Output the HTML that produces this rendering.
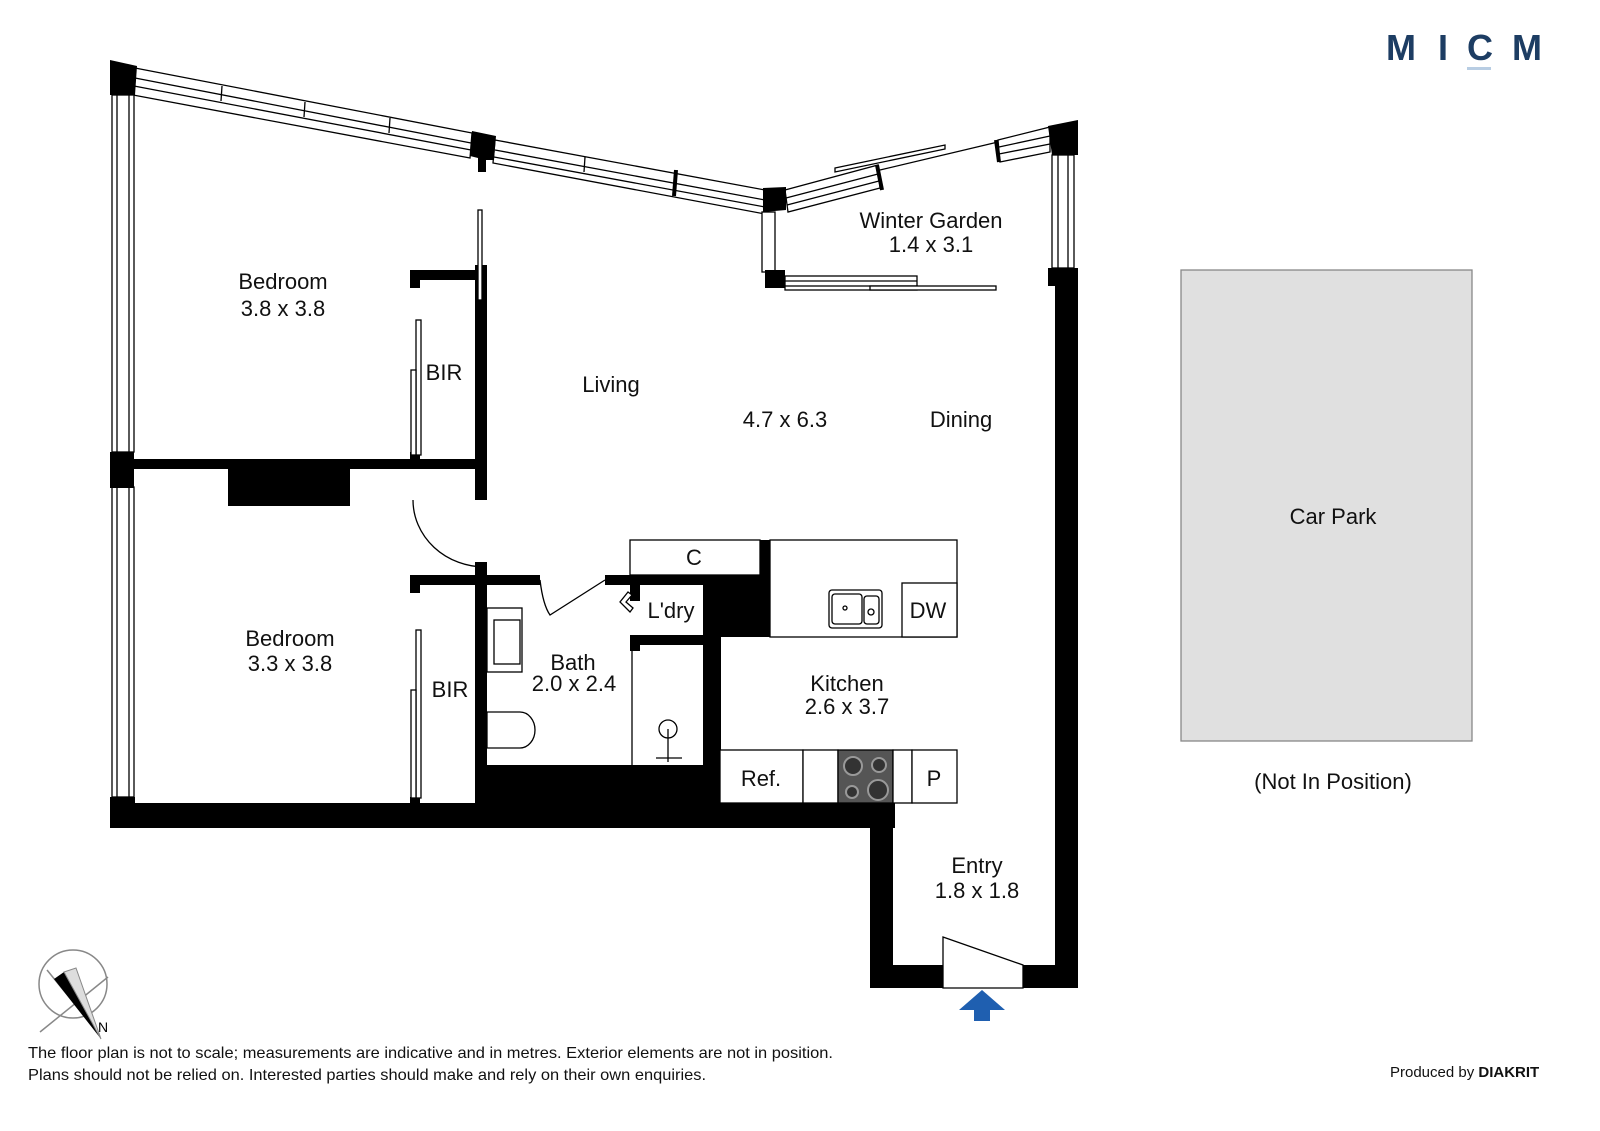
<!DOCTYPE html>
<html><head><meta charset="utf-8"><style>
html,body{margin:0;padding:0;background:#fff;}
svg{display:block;font-family:"Liberation Sans",sans-serif;}
</style></head><body>
<svg width="1600" height="1131" viewBox="0 0 1600 1131" xmlns="http://www.w3.org/2000/svg">
<rect width="1600" height="1131" fill="#fff"/>
<!-- logo -->
<g fill="#1d3d63" font-size="36" font-weight="bold">
<text x="1386" y="60">M</text><text x="1438" y="60">I</text><text x="1467" y="60">C</text><text x="1512" y="60">M</text>
</g>
<rect x="1467" y="67" width="24" height="3" fill="#b8cde3"/>
<!-- top slanted windows -->
<g fill="#fff" stroke="#000" stroke-width="1.3">
<polygon points="135,68 472,133 470,158 133,95"/>
<line x1="135" y1="78" x2="471" y2="143"/><line x1="134" y1="86" x2="471" y2="150"/>
<polygon points="495,140 765,190 765,214 493,163"/>
<line x1="495" y1="150" x2="765" y2="200"/><line x1="494" y1="157" x2="765" y2="207"/>
<line x1="222" y1="86" x2="221" y2="101"/><line x1="305" y1="102" x2="304" y2="117"/><line x1="390" y1="118" x2="389" y2="133"/>
<line x1="585" y1="157" x2="584" y2="172"/>
<polygon points="785,190 878,165 880,188 788,212"/>
<line x1="786" y1="198" x2="878" y2="174"/><line x1="787" y1="205" x2="879" y2="181"/>
<polygon points="835,168 945,145 945,149 835,172"/>
<line x1="880" y1="170" x2="998" y2="142"/>
<polygon points="998,140 1050,127 1050,152 1000,162"/>
<line x1="999" y1="147" x2="1050" y2="136"/><line x1="999" y1="154" x2="1050" y2="144"/>
<rect x="112" y="95" width="22" height="357"/><rect x="117" y="95" width="12" height="357"/>
<rect x="112" y="487" width="22" height="310"/><rect x="117" y="487" width="12" height="310"/>
<rect x="762" y="212" width="13" height="60"/>
<rect x="1052" y="155" width="22" height="113"/><rect x="1058" y="155" width="10" height="113"/>
<rect x="785" y="276" width="132" height="11"/><line x1="785" y1="281" x2="917" y2="281"/>
<rect x="785" y="286" width="132" height="4"/><rect x="870" y="286" width="126" height="4"/>
</g>
<!-- black walls -->
<g fill="#000">
<polygon points="110,60 137,66 135,95 110,95"/>
<rect x="110" y="452" width="24" height="36"/>
<polygon points="472,131 496,136 494,160 486,160 486,172 478,172 478,158 470,156"/>
<line x1="676" y1="170" x2="674" y2="196" stroke="#000" stroke-width="4"/>
<polygon points="763,188 786,187 786,210 763,212"/>
<line x1="877" y1="165" x2="882" y2="190" stroke="#000" stroke-width="4"/>
<line x1="996" y1="140" x2="999" y2="162" stroke="#000" stroke-width="4"/>
<polygon points="1048,126 1078,120 1078,155 1052,155"/>
<rect x="765" y="270" width="20" height="18"/>
<rect x="1048" y="268" width="30" height="18"/>
<rect x="1055" y="268" width="23" height="720"/>
<rect x="110" y="803" width="785" height="25"/>
<rect x="110" y="797" width="25" height="20"/>
<rect x="870" y="805" width="23" height="183"/>
<rect x="870" y="965" width="73" height="23"/>
<rect x="1023" y="965" width="55" height="23"/>
<rect x="110" y="459" width="377" height="10"/>
<rect x="228" y="459" width="122" height="47"/>
<rect x="475" y="265" width="12" height="235"/>
<rect x="410" y="270" width="77" height="10"/><rect x="410" y="270" width="10" height="18"/>
<rect x="410" y="452" width="10" height="16"/>
<rect x="410" y="575" width="130" height="10"/><rect x="410" y="575" width="10" height="18"/>
<rect x="605" y="575" width="165" height="10"/>
<rect x="475" y="562" width="12" height="243"/>
<rect x="410" y="797" width="10" height="10"/>
<rect x="475" y="765" width="245" height="42"/>
<rect x="703" y="585" width="67" height="52"/>
<rect x="760" y="540" width="10" height="97"/>
<rect x="703" y="637" width="18" height="170"/>
<rect x="630" y="635" width="73" height="10"/>
<rect x="630" y="585" width="10" height="16"/><rect x="630" y="635" width="10" height="16"/>
</g>
<g fill="#fff" stroke="#000" stroke-width="1.3">
<rect x="478" y="210" width="4" height="90"/>
<rect x="416" y="320" width="5" height="135"/><rect x="411" y="370" width="5" height="85"/>
<rect x="416" y="630" width="5" height="168"/><rect x="411" y="690" width="5" height="108"/>
<path d="M413,500 A72,67 0 0 0 485,567" fill="none"/>
<path d="M540,580 Q543,605 550,615 L605,580" fill="none"/>
<path d="M628,592 L620,602 L630,612 L633,608 L626,602 L632,595 Z"/>
<line x1="632" y1="645" x2="632" y2="765"/>
<rect x="630" y="540" width="130" height="35"/>
<rect x="770" y="540" width="187" height="97"/>
<rect x="902" y="583" width="55" height="54"/>
<rect x="829" y="590" width="53" height="38" rx="3"/>
<rect x="832" y="594" width="30" height="30" rx="3"/><rect x="864" y="596" width="15" height="28" rx="3"/>
<circle cx="845" cy="608" r="2"/><circle cx="871" cy="612" r="3"/>
<rect x="720" y="750" width="83" height="53"/>
<rect x="803" y="750" width="35" height="53"/>
<rect x="838" y="750" width="55" height="53" fill="#555"/>
<rect x="893" y="750" width="19" height="53"/>
<rect x="912" y="750" width="45" height="53"/>
<rect x="487" y="608" width="35" height="64"/><rect x="494" y="620" width="26" height="44"/>
<path d="M487,712 L520,712 A15,18 0 0 1 520,748 L487,748 Z"/>
<circle cx="668" cy="729" r="9"/>
<line x1="668" y1="729" x2="668" y2="762"/>
<line x1="656" y1="758" x2="682" y2="758"/>
<path d="M943,937 L1023,965 L1023,988 L943,988 Z"/>
<rect x="1181" y="270" width="291" height="471" fill="#e0e0e0" stroke="#888"/>
</g>
<g fill="#333"><circle cx="853" cy="766" r="9" stroke="#999" stroke-width="2"/><circle cx="879" cy="765" r="7" stroke="#999" stroke-width="2"/><circle cx="852" cy="792" r="6" stroke="#999" stroke-width="2"/><circle cx="878" cy="790" r="10" stroke="#999" stroke-width="2"/></g>
<polygon points="982,990 1005,1010 990,1010 990,1021 974,1021 974,1010 959,1010" fill="#1f5fb0"/>
<g stroke="#888" stroke-width="1.5" fill="none">
<circle cx="73" cy="984" r="34"/>
<line x1="40" y1="1032" x2="108" y2="977"/>
<line x1="47" y1="970" x2="96" y2="1030"/>
</g>
<polygon points="54,979 64,972 101,1039" fill="#000"/>
<polygon points="64,972 76,968 101,1039" fill="#ddd" stroke="#888"/>
<text x="98" y="1032" font-size="14">N</text>
<g font-size="22" text-anchor="middle" fill="#111">
<text x="283" y="289">Bedroom</text><text x="283" y="316">3.8 x 3.8</text>
<text x="444" y="380">BIR</text>
<text x="611" y="392">Living</text>
<text x="785" y="427">4.7 x 6.3</text>
<text x="961" y="427">Dining</text>
<text x="931" y="228">Winter Garden</text><text x="931" y="252">1.4 x 3.1</text>
<text x="290" y="646">Bedroom</text><text x="290" y="671">3.3 x 3.8</text>
<text x="450" y="697">BIR</text>
<text x="573" y="670">Bath</text><text x="574" y="691">2.0 x 2.4</text>
<text x="694" y="565">C</text>
<text x="671" y="618">L'dry</text>
<text x="928" y="618">DW</text>
<text x="847" y="691">Kitchen</text><text x="847" y="714">2.6 x 3.7</text>
<text x="761" y="786">Ref.</text>
<text x="934" y="786">P</text>
<text x="977" y="873">Entry</text><text x="977" y="898">1.8 x 1.8</text>
<text x="1333" y="524">Car Park</text>
<text x="1333" y="789">(Not In Position)</text>
</g>
<g font-size="16" fill="#111">
<text x="28" y="1058" textLength="805" lengthAdjust="spacingAndGlyphs">The floor plan is not to scale; measurements are indicative and in metres. Exterior elements are not in position.</text>
<text x="28" y="1080" textLength="678" lengthAdjust="spacingAndGlyphs">Plans should not be relied on. Interested parties should make and rely on their own enquiries.</text>
<text x="1390" y="1077" font-size="15">Produced by <tspan font-weight="bold">DIAKRIT</tspan></text>
</g>
</svg>
</body></html>
